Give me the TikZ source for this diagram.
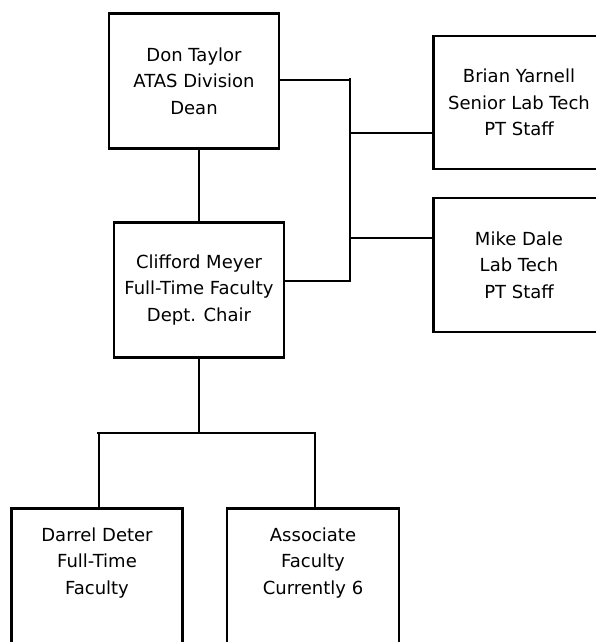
\documentclass[tikz,border=0pt]{standalone}
\usepackage{fontspec}
\setmainfont{DejaVu Sans}
\begin{document}
\begin{tikzpicture}[x=1pt,y=-1pt,
  box/.style={draw=black, line width=2.8pt, rectangle, minimum width=170pt, minimum height=135pt, inner sep=0pt, align=center, font=\fontsize{18}{26.5}\selectfont},
  txt/.style={align=center, inner sep=0pt, font=\fontsize{18}{26.5}\selectfont},
  conn/.style={draw=black, line width=2.2pt}]
\useasboundingbox (0,0) rectangle (596,642);
\clip (0,0) rectangle (596,642);
\fill[white] (0,0) rectangle (596,642);
% boxes
\node[box] (don) at (194,81) {Don Taylor\\ATAS Division\\Dean};
\node[box] (cliff) at (199,290) {Clifford Meyer\\Full-Time Faculty\\Dept. Chair};
\node[box, minimum width=171pt, minimum height=133pt] (brian) at (519,102.5) {Brian Yarnell\\Senior Lab Tech\\PT Staff};
\node[box, minimum width=171pt, minimum height=134pt] (mike) at (519,265) {Mike Dale\\Lab Tech\\PT Staff};
\node[box, minimum width=171pt, minimum height=250pt, anchor=north] (darrel) at (97,507) {};
\node[txt] (darrelt) at (97,563) {Darrel Deter\\Full-Time\\Faculty};
\node[box, minimum width=172pt, minimum height=250pt, anchor=north] (assoc) at (313,507) {};
\node[txt] (assoct) at (313,563) {Associate\\Faculty\\Currently 6};
% bus coordinates
\coordinate (busT) at (350,78);
\coordinate (busB) at (350,282);
\coordinate (hbarL) at (97,433);
\coordinate (hbarR) at (316,433);
% connectors
\draw[conn] (cliff.north) -- (cliff.north |- don.south);
\draw[conn] (busT) -- (busB);
\draw[conn] ([yshift=1pt]don.east) -- ([yshift=1pt]don.east -| busT);
\draw[conn] ([yshift=9pt]cliff.east) -- ([yshift=9pt]cliff.east -| busT);
\draw[conn] ([yshift=-30.5pt]brian.west) -- ([yshift=-30.5pt]brian.west -| busT);
\draw[conn] ([yshift=27pt]mike.west) -- ([yshift=27pt]mike.west -| busT);
\draw[conn] (cliff.south) -- (cliff.south |- hbarL);
\draw[conn] (hbarL) -- (hbarR);
\draw[conn] ([xshift=2pt]darrel.north) -- ([xshift=2pt]darrel.north |- hbarL);
\draw[conn] ([xshift=2pt]assoc.north) -- ([xshift=2pt]assoc.north |- hbarR);
\end{tikzpicture}
\end{document}
